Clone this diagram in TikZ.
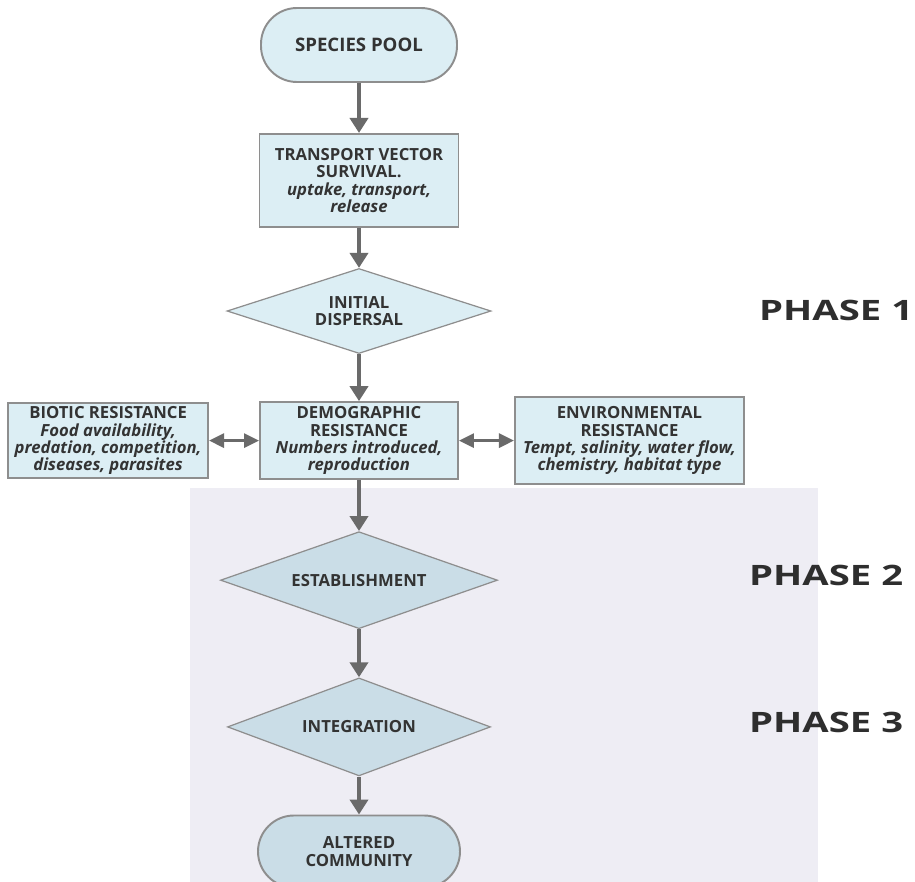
\documentclass[tikz,border=0pt]{standalone}
\usepackage{graphicx}
\usepackage{fontspec}
\setmainfont{Open Sans}
\usetikzlibrary{positioning,shapes.geometric,arrows.meta}

\definecolor{boxfill}{HTML}{DCEEF4}
\definecolor{lowfill}{HTML}{CADDE7}
\definecolor{boxline}{HTML}{8E8E8E}
\definecolor{arrowgray}{HTML}{6A6A6A}
\definecolor{txt}{HTML}{333333}
\definecolor{wmark}{HTML}{EEEDF4}

\tikzset{
  base/.style={draw=boxline, fill=boxfill, text=txt, align=center, inner sep=0pt,
    font=\fontsize{9.5}{9.8}\selectfont\bfseries, line width=1.1pt},
  term/.style={base, rectangle, rounded corners=0.72cm},
  proc/.style={base, rectangle},
  decis/.style={base, diamond, aspect=3, line width=0.7pt},
  flow/.style={-{Triangle[width=0.36cm,length=0.3cm]}, line width=2.3pt, draw=arrowgray},
  both/.style={{Triangle[width=0.28cm,length=0.3cm]}-{Triangle[width=0.28cm,length=0.3cm]},
    line width=1.7pt, draw=arrowgray},
  phase/.style={text=black!82, font=\fontsize{16}{18}\selectfont\bfseries, anchor=west}
}

\begin{document}
\begin{tikzpicture}
        \useasboundingbox (0,0) rectangle (18.3,-17.64);
        \fill[wmark] (3.8,-9.76) rectangle (16.36,-17.64); % faded logo area

        \node[term, minimum width=3.92cm, minimum height=1.48cm, font=\fontsize{10.6}{12}\selectfont\bfseries] (pool) at (7.18,-0.9) {SPECIES POOL};
        \node[proc, minimum width=3.98cm, minimum height=1.86cm, below=1.0cm of pool] (vector)
          {TRANSPORT VECTOR\\SURVIVAL.\\\textit{uptake, transport,}\\\textit{release}};
        \node[decis, minimum width=5.28cm, minimum height=1.7cm, below=0.8cm of vector] (disp) {INITIAL\\DISPERSAL};
        \node[proc, minimum width=3.96cm, minimum height=1.54cm, below=0.94cm of disp] (demo)
          {DEMOGRAPHIC\\RESISTANCE\\\textit{Numbers introduced,}\\\textit{reproduction}};
        \node[proc, minimum width=4.0cm, minimum height=1.5cm, left=1.0cm of demo] (biotic)
          {BIOTIC RESISTANCE\\\textit{Food availability,}\\\textit{predation, competition,}\\\textit{diseases, parasites}};
        \node[proc, minimum width=4.58cm, minimum height=1.74cm, right=1.1cm of demo] (env)
          {ENVIRONMENTAL\\RESISTANCE\\\textit{Tempt, salinity, water flow,}\\\textit{chemistry, habitat type}};
        \node[decis, fill=lowfill, minimum width=5.54cm, minimum height=1.94cm, below=1.02cm of demo] (estab) {ESTABLISHMENT};
        \node[decis, fill=lowfill, minimum width=5.26cm, minimum height=1.96cm, below=0.96cm of estab] (integ) {INTEGRATION};
        \node[term, fill=lowfill, minimum width=4.04cm, minimum height=1.44cm, below=0.76cm of integ] (altered) {ALTERED\\COMMUNITY};

        \node[phase] (ph1) at (15.06,-6.2) {\scalebox{1.36}[1]{PHASE 1}};
        \node[phase] (ph2) at (14.86,-11.5) {\scalebox{1.36}[1]{PHASE 2}};
        \node[phase] (ph3) at (14.86,-14.44) {\scalebox{1.36}[1]{PHASE 3}};

        \draw[flow] (pool) -- (vector); %
        \draw[flow] (vector) -- (disp); %
        \draw[flow] (disp) -- (demo); %
        \draw[flow] (demo) -- (estab); %
        \draw[flow] (estab) -- (integ); %
        \draw[flow] (integ) -- (altered); %
        \draw[both] (biotic) -- (demo); %
        \draw[both] (demo) -- (env); %

\end{tikzpicture}
\end{document}
